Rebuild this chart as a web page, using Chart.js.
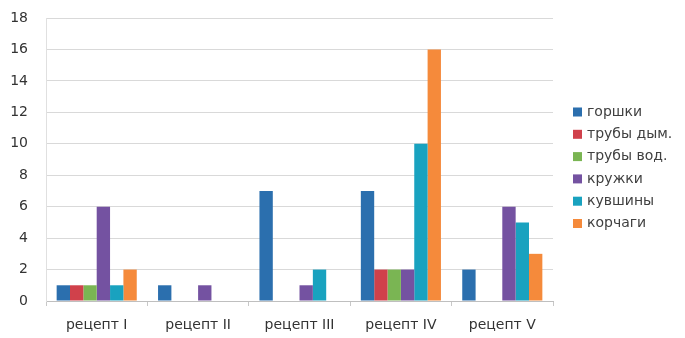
<!DOCTYPE html>
<html><head><meta charset="utf-8">
<script src="https://cdn.jsdelivr.net/npm/chart.js@4"></script>
<style>html,body{margin:0;padding:0;background:#fff}#wrap{width:685px;height:338px}</style>
</head><body><div id="wrap"><canvas id="c"></canvas></div>
<script>
const categories = ["рецепт I", "рецепт II", "рецепт III", "рецепт IV", "рецепт V"];
const seriesNames = ["горшки", "трубы дым.", "трубы вод.", "кружки", "кувшины", "корчаги"];
const gorshki   = [1, 1, 7, 7, 2];
const trubyDym  = [1, 0, 0, 2, 0];
const trubyVod  = [1, 0, 0, 2, 0];
const kruzhki   = [6, 1, 1, 2, 6];
const kuvshiny  = [1, 0, 2, 10, 5];
const korchagi  = [2, 0, 0, 16, 3];
const yTicks = [0, 2, 4, 6, 8, 10, 12, 14, 16, 18];
const colors = ["#2b6fae", "#d0414b", "#7ab553", "#7452a1", "#19a2bf", "#f58a3b"];
const values = [gorshki, trubyDym, trubyVod, kruzhki, kuvshiny, korchagi];

const FONT = "'DejaVu Sans', 'Open Sans', sans-serif";

const legendPlugin = {
  id: 'sideLegend',
  afterDraw(chart) {
    const ctx = chart.ctx;
    ctx.save();
    ctx.font = "14px " + FONT;
    ctx.textBaseline = 'middle';
    chart.data.datasets.forEach((ds, i) => {
      const y = 112 + i * 22.3;
      ctx.fillStyle = ds.backgroundColor;
      ctx.fillRect(573, y - 4.5, 9, 9);
      ctx.fillStyle = '#404040';
      ctx.fillText(ds.label, 587, y);
    });
    ctx.restore();
  }
};

new Chart(document.getElementById('c'), {
  type: 'bar',
  data: {
    labels: categories,
    datasets: seriesNames.map((n, i) => ({
      label: n, data: values[i], backgroundColor: colors[i],
      borderWidth: 0, categoryPercentage: 0.79, barPercentage: 1
    }))
  },
  options: {
    responsive: true, maintainAspectRatio: false, animation: false,
    layout: { padding: { left: 0, right: 132, top: 18, bottom: 0 } },
    plugins: { legend: { display: false }, tooltip: { enabled: false } },
    scales: {
      x: {
        afterFit: s => { s.height = 37; },
        grid: { offset: true, drawOnChartArea: false, drawTicks: true, tickLength: 5, color: '#c8c8c8' },
        border: { color: '#bfbfbf' },
        ticks: { font: { family: FONT, size: 14 }, color: '#333', padding: 11 }
      },
      y: {
        min: 0, max: 18,
        afterFit: s => { s.width = 46; s.paddingTop = 0; },
        afterBuildTicks: s => { s.ticks = yTicks.map(v => ({ value: v })); },
        grid: { color: '#d9d9d9', drawTicks: false },
        border: { color: '#e0e0e0' },
        ticks: { font: { family: FONT, size: 14 }, color: '#333', padding: 18 }
      }
    }
  },
  plugins: [legendPlugin]
});
</script></body></html>
